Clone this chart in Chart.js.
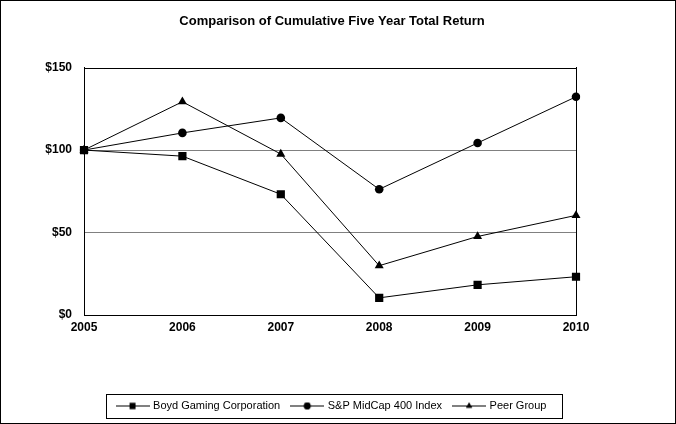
<!DOCTYPE html>
<html>
<head>
<meta charset="utf-8">
<script src="https://cdn.jsdelivr.net/npm/chart.js@4.4.1/dist/chart.umd.min.js"></script>
<style>
  html, body { margin: 0; padding: 0; background: #fff; }
  #wrap { width: 676px; height: 424px; }
</style>
</head>
<body>
<div id="wrap"><canvas id="chart" width="676" height="424"></canvas></div>
<script>
const years = ['2005', '2006', '2007', '2008', '2009', '2010'];
const boyd = [100, 96.3, 73.2, 10.4, 18.3, 23.2];
const midcap = [100, 110.4, 119.5, 76.2, 104.3, 132.3];
const peer = [100, 129.3, 97.6, 29.9, 47.6, 60.4];
const yTicks = [0, 50, 100, 150];

// little canvas with a line through the marker, for the legend
function legendIcon(style) {
  const c = document.createElement('canvas');
  c.width = 34; c.height = 10;
  const ctx = c.getContext('2d');
  ctx.strokeStyle = '#000';
  ctx.fillStyle = '#000';
  ctx.lineWidth = 1;
  ctx.beginPath();
  ctx.moveTo(0, 5.5); ctx.lineTo(34, 5.5);
  ctx.stroke();
  Chart.helpers.drawPoint(ctx, { pointStyle: style, radius: style === 'rect' ? 4.2 : 3.4, borderWidth: 0 }, 17, 5.5);
  ctx.fill();
  return c;
}

const frame = {
  id: 'frame',
  afterDraw(chart) {
    const ctx = chart.ctx;
    const a = chart.chartArea;
    ctx.save();
    ctx.strokeStyle = '#000';
    ctx.lineWidth = 1;
    ctx.strokeRect(Math.round(a.left) + 0.5, Math.round(a.top) + 0.5,
      Math.round(a.right - a.left), Math.round(a.bottom - a.top));
    // legend box
    const hb = chart.legend.legendHitBoxes;
    if (hb && hb.length) {
      const first = hb[0], last = hb[hb.length - 1];
      const l = Math.round(first.left - 12), r = Math.round(last.left + last.width + 16);
      const t = Math.round(first.top - 6), b = Math.round(first.top + first.height + 7);
      ctx.strokeRect(l + 0.5, t + 0.5, r - l, b - t);
    }
    ctx.strokeRect(0.5, 0.5, chart.width - 1, chart.height - 1);
    ctx.restore();
  }
};

function series(label, data, style, radius) {
  return {
    label: label,
    data: data,
    borderColor: '#000',
    backgroundColor: '#000',
    borderWidth: 1,
    pointStyle: style,
    pointRadius: radius,
    pointHoverRadius: radius,
    pointBorderWidth: 0,
    pointBackgroundColor: '#000',
    tension: 0,
    fill: false,
    icon: legendIcon(style)
  };
}

new Chart(document.getElementById('chart'), {
  type: 'line',
  data: {
    labels: years,
    datasets: [
      series('Boyd Gaming Corporation', boyd, 'rect', 5.8),
      series('S&P MidCap 400 Index', midcap, 'circle', 4.3),
      series('Peer Group', peer, 'triangle', 5.2)
    ]
  },
  options: {
    responsive: false,
    animation: false,
    devicePixelRatio: 1,
    layout: { padding: { left: 0, right: 12, top: 0, bottom: 3 } },
    plugins: {
      title: {
        display: true,
        text: 'Comparison of Cumulative Five Year Total Return',
        color: '#000',
        font: { family: 'Liberation Sans, Arial', size: 13, weight: 'bold' },
        padding: { top: 14, bottom: 38 }
      },
      legend: {
        position: 'bottom',
        labels: {
          color: '#000',
          font: { family: 'Liberation Sans, Arial', size: 11 },
          usePointStyle: true,
          pointStyleWidth: 30,
          padding: 12,
          generateLabels(chart) {
            return chart.data.datasets.map((ds, i) => ({
              text: ds.label,
              pointStyle: ds.icon,
              fillStyle: '#000',
              strokeStyle: '#000',
              lineWidth: 0,
              hidden: false,
              datasetIndex: i
            }));
          }
        }
      },
      tooltip: { enabled: false }
    },
    scales: {
      x: {
        offset: false,
        grid: { display: false, drawTicks: false },
        border: { display: true, color: '#000' },
        ticks: {
          color: '#000',
          font: { family: 'Liberation Sans, Arial', size: 12, weight: 'bold' },
          padding: 5,
          maxRotation: 0
        },
        afterFit(scale) { scale.height = 73; }
      },
      y: {
        min: 0,
        max: 150,
        afterBuildTicks(scale) { scale.ticks = yTicks.map(v => ({ value: v })); },
        grid: {
          drawTicks: false,
          color: ctx => (ctx.tick && (ctx.tick.value === 50 || ctx.tick.value === 100)) ? '#808080' : 'rgba(0,0,0,0)'
        },
        border: { display: true, color: '#000' },
        ticks: {
          color: '#000',
          font: { family: 'Liberation Sans, Arial', size: 12, weight: 'bold' },
          padding: 12,
          callback: v => '$' + v
        },
        afterFit(scale) { scale.width = 84; }
      },
      yR: {
        position: 'right',
        min: 0,
        max: 150,
        grid: { display: false },
        border: { display: true, color: '#000' },
        ticks: { display: false },
        afterFit(scale) { scale.width = 88; }
      }
    }
  },
  plugins: [frame]
});
</script>
</body>
</html>
